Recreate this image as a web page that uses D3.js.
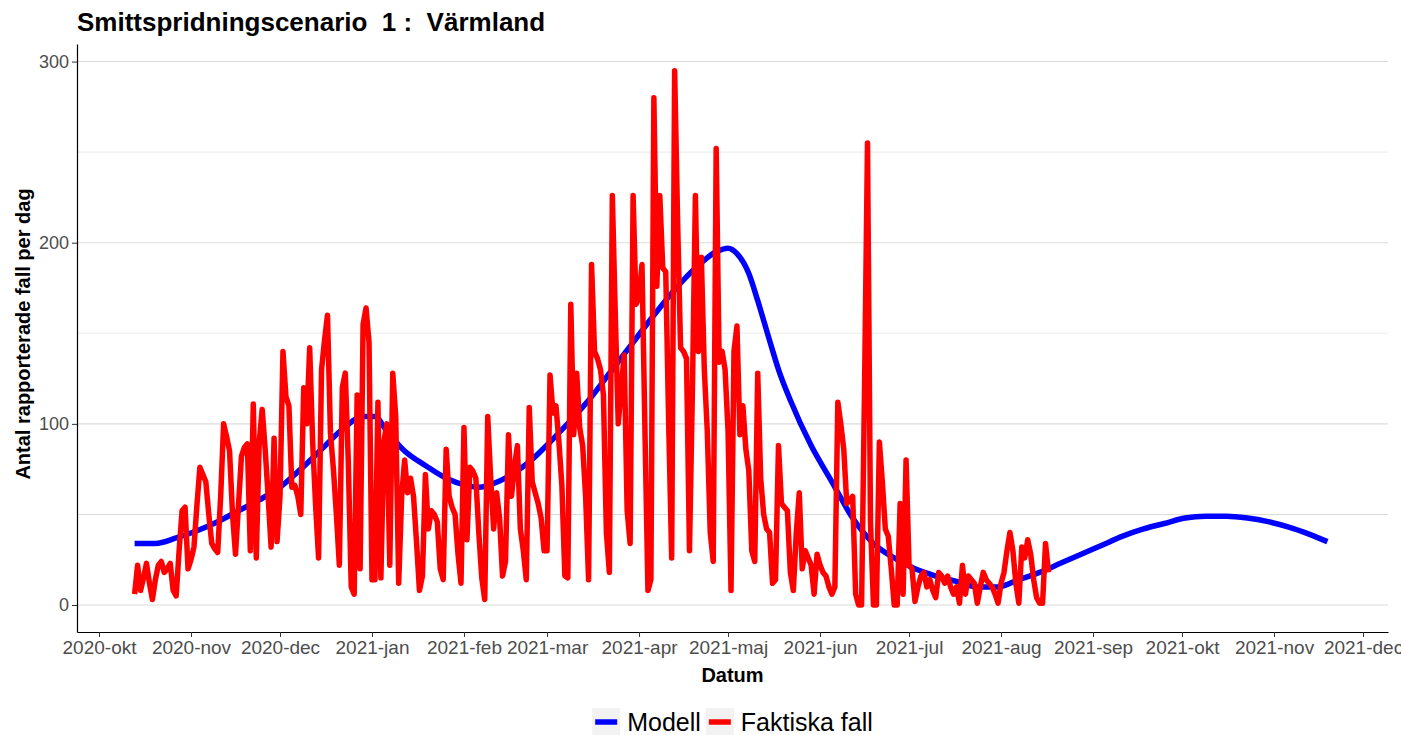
<!DOCTYPE html>
<html>
<head>
<meta charset="utf-8">
<script src="https://cdn.jsdelivr.net/npm/d3@7"></script>
<style>
    body { margin: 0; background: #fff; }
    svg { display: block; font-family: 'Liberation Sans', Arial, sans-serif; }
</style>
</head>
<body>
<div id="chart"></div>
<script>
// modellkurvan, avläst ungefär en gång i veckan
const modelDates = ['2020-10-13', '2020-10-20', '2020-10-27', '2020-11-03', '2020-11-10', '2020-11-17', '2020-11-24',
    '2020-12-01', '2020-12-08', '2020-12-15', '2020-12-22', '2020-12-29', '2021-01-02', '2021-01-06', '2021-01-12',
    '2021-01-19', '2021-01-26', '2021-02-02', '2021-02-06', '2021-02-09', '2021-02-16', '2021-02-23', '2021-03-02',
    '2021-03-09', '2021-03-16', '2021-03-23', '2021-03-30', '2021-04-06', '2021-04-13', '2021-04-20', '2021-04-27',
    '2021-05-01', '2021-05-04', '2021-05-08', '2021-05-11', '2021-05-15', '2021-05-18', '2021-05-22', '2021-05-29',
    '2021-06-05', '2021-06-12', '2021-06-19', '2021-06-26', '2021-07-03', '2021-07-10', '2021-07-17', '2021-07-24',
    '2021-07-31', '2021-08-07', '2021-08-14', '2021-08-21', '2021-08-28', '2021-09-04', '2021-09-11', '2021-09-18',
    '2021-09-25', '2021-10-02', '2021-10-09', '2021-10-16', '2021-10-23', '2021-10-30', '2021-11-06', '2021-11-13',
    '2021-11-19']
const modelValues = [34, 34, 37, 41, 46, 52, 58,
    65, 75, 86, 97, 104, 104, 96, 85,
    77, 70, 66, 65, 66, 71, 79, 90,
    102, 115, 130, 145, 160, 174, 186, 195,
    197, 194, 183, 168, 146, 130, 113, 88,
    68, 48, 34, 26, 20, 16, 13, 10,
    10, 14, 18, 23, 28, 33, 38, 42,
    45, 48, 49, 49, 48, 46, 43, 39,
    35]

// faktiska fall per dag från 2020-10-13
const actualStart = '2020-10-13'
const actualValues = [
    6, 22, 8, 15, 23, 12, 3, 14, 22, 24,
    18, 20, 23, 8, 5, 30, 52, 54, 20, 25,
    32, 55, 76, 72, 68, 50, 34, 31, 29, 60,
    100, 93, 85, 50, 28, 55, 82, 87, 89, 30,
    111, 26, 90, 108, 86, 60, 32, 92, 35, 60,
    140, 115, 110, 65, 66, 60, 50, 120, 100, 142,
    90, 55, 26, 130, 146, 160, 95, 75, 50, 22,
    120, 128, 80, 10, 6, 116, 20, 155, 164, 145,
    14, 14, 112, 15, 90, 100, 22, 128, 104, 12,
    60, 80, 62, 70, 60, 35, 8, 16, 72, 42,
    52, 50, 46, 20, 14, 86, 60, 54, 50, 28,
    12, 98, 36, 76, 74, 70, 40, 15, 3, 104,
    70, 42, 62, 48, 16, 24, 94, 60, 76, 88,
    42, 30, 14, 109, 68, 62, 56, 48, 30, 30,
    127, 106, 110, 90, 66, 16, 15, 166, 94, 128,
    98, 88, 60, 14, 188, 140, 136, 130, 116, 40,
    18, 226, 160, 100, 120, 138, 52, 34, 226, 166,
    170, 188, 96, 8, 14, 280, 176, 226, 186, 184,
    100, 26, 295, 212, 142, 140, 136, 30, 120, 226,
    140, 192, 130, 96, 40, 24, 252, 134, 140, 130,
    96, 8, 140, 154, 94, 110, 86, 74, 30, 24,
    128, 70, 50, 42, 40, 12, 14, 88, 56, 54,
    52, 18, 8, 40, 62, 20, 30, 26, 22, 6,
    28, 22, 18, 16, 10, 6, 10, 112, 100, 86,
    56, 58, 60, 6, 0, 0, 120, 255, 46, 0,
    0, 90, 68, 42, 38, 20, 0, 0, 56, 6,
    80, 22, 20, 2, 10, 16, 18, 10, 14, 8,
    4, 18, 16, 12, 16, 10, 6, 10, 1, 22,
    6, 16, 14, 12, 1, 10, 18, 14, 12, 10,
    6, 1, 12, 18, 30, 40, 30, 12, 1, 32,
    26, 36, 28, 14, 4, 1, 1, 34, 18]

const monthNames = ['jan', 'feb', 'mar', 'apr', 'maj', 'jun', 'jul', 'aug', 'sep', 'okt', 'nov', 'dec']
const yTicks = [0, 100, 200, 300]
const yGrid = [0, 50, 100, 150, 200, 250, 300]
const seriesNames = ['Modell', 'Faktiska fall']
const seriesColors = ['#0000ff', '#ff0000']

const width = 1401
const height = 735
const plot = {left: 77, right: 1388, top: 44, bottom: 632}

const parse = d3.utcParse('%Y-%m-%d')
const day = 864e5

const model = modelDates.map((d, i) => ({date: parse(d), value: modelValues[i]}))
const actual = actualValues.map((v, i) => ({date: new Date(+parse(actualStart) + i * day), value: v}))

const xScale = d3.scaleUtc()
    .domain([new Date(Date.UTC(2020, 8, 23, 14)), new Date(Date.UTC(2021, 11, 9, 10))])
    .range([plot.left, plot.right])
const yScale = d3.scaleLinear().domain([-14.9, 309.7]).range([plot.bottom, plot.top])

const svg = d3.select('#chart')
    .append('svg')
    .attr('width', width)
    .attr('height', height)

svg.append('rect').attr('width', width).attr('height', height).attr('fill', '#fff')

svg.append('g')
    .selectAll('line')
    .data(yGrid)
    .enter()
    .append('line')
    .attr('x1', plot.left)
    .attr('x2', plot.right)
    .attr('y1', (d) => yScale(d))
    .attr('y2', (d) => yScale(d))
    .attr('stroke', (d) => d % 100 === 50 && d !== 50 ? '#ececec' : '#dcdcdc')
    .attr('stroke-width', 1.1)

const line = (curve) => d3.line()
    .x((d) => xScale(d.date))
    .y((d) => yScale(d.value))
    .curve(curve)

svg.append('path')
    .datum(model)
    .attr('d', line(d3.curveMonotoneX))
    .attr('fill', 'none')
    .attr('stroke', seriesColors[0])
    .attr('stroke-width', 5.5)
    .attr('stroke-linejoin', 'round')

svg.append('path')
    .datum(actual)
    .attr('d', line(d3.curveLinear))
    .attr('fill', 'none')
    .attr('stroke', seriesColors[1])
    .attr('stroke-width', 5.5)
    .attr('stroke-linejoin', 'round')

const monthTicks = d3.utcMonth.range(new Date(Date.UTC(2020, 9, 1)), new Date(Date.UTC(2021, 11, 2)))
const xAxis = d3.axisBottom(xScale)
    .tickValues(monthTicks)
    .tickFormat((d) => `${d.getUTCFullYear()}-${monthNames[d.getUTCMonth()]}`)
    .tickSize(5)
    .tickSizeOuter(0)
    .tickPadding(4)
const yAxis = d3.axisLeft(yScale)
    .tickValues(yTicks)
    .tickSize(5)
    .tickSizeOuter(0)
    .tickPadding(3)

const gx = svg.append('g')
    .attr('transform', `translate(0, ${plot.bottom})`)
    .call(xAxis)
gx.select('.domain').attr('stroke', '#000').attr('stroke-width', 1.2)
gx.selectAll('.tick line').attr('stroke', '#333')
gx.selectAll('.tick text').attr('fill', '#4d4d4d').style('font-size', '19px')

const gy = svg.append('g')
    .attr('transform', `translate(${plot.left}, 0)`)
    .call(yAxis)
gy.select('.domain').attr('stroke', '#000').attr('stroke-width', 1.2)
gy.selectAll('.tick line').attr('stroke', '#333')
gy.selectAll('.tick text').attr('fill', '#4d4d4d').style('font-size', '18px')

svg.append('text')
    .attr('x', plot.left)
    .attr('y', 31)
    .style('font-size', '26px')
    .style('font-weight', 'bold')
    .style('white-space', 'pre')
    .text('Smittspridningscenario  1 :  Värmland')

svg.append('text')
    .attr('x', (plot.left + plot.right) / 2)
    .attr('y', 682)
    .attr('text-anchor', 'middle')
    .style('font-size', '20px')
    .style('font-weight', 'bold')
    .text('Datum')

svg.append('text')
    .attr('transform', `translate(30, ${(plot.top + plot.bottom) / 2 - 4}) rotate(-90)`)
    .attr('text-anchor', 'middle')
    .style('font-size', '20px')
    .style('font-weight', 'bold')
    .text('Antal rapporterade fall per dag')

// legend centrerad under diagrammet
const legend = svg.append('g')
const keySize = 28
const legendY = 722
let lx = 0
seriesNames.forEach((name, i) => {
    const item = legend.append('g').attr('transform', `translate(${lx}, 0)`)
    item.append('rect')
        .attr('x', 0)
        .attr('y', legendY - keySize / 2)
        .attr('width', keySize)
        .attr('height', keySize)
        .attr('fill', '#f2f2f2')
    item.append('line')
        .attr('x1', 3)
        .attr('x2', keySize - 3)
        .attr('y1', legendY)
        .attr('y2', legendY)
        .attr('stroke', seriesColors[i])
        .attr('stroke-width', 5.5)
    const t = item.append('text')
        .attr('x', keySize + 7)
        .attr('y', legendY)
        .attr('dy', '0.36em')
        .style('font-size', '25px')
        .text(name)
    lx += keySize + 7 + t.node().getComputedTextLength() + 5
})
legend.attr('transform', `translate(${(plot.left + plot.right) / 2 - (lx - 5) / 2}, 0)`)
</script>
</body>
</html>
